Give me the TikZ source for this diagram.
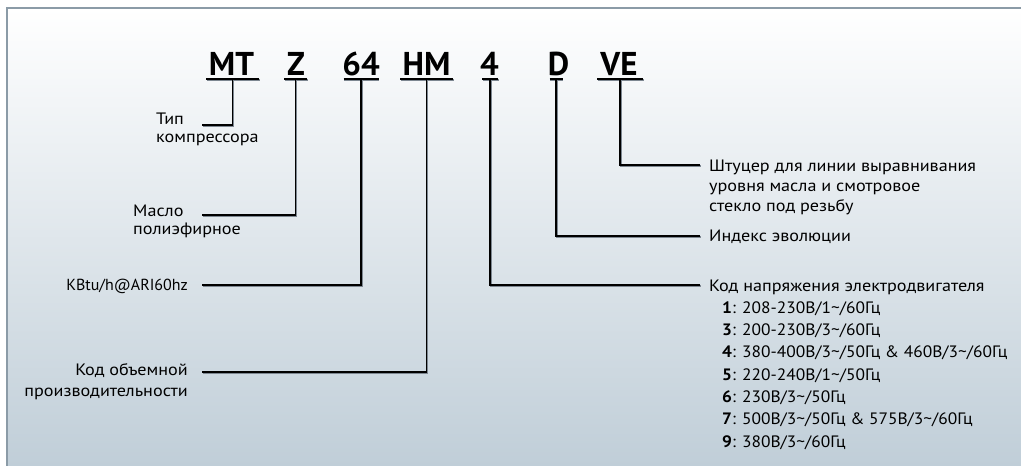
\documentclass[tikz,border=0pt]{standalone}
\usepackage{fontspec}
\setmainfont{PT Sans}[FakeStretch=1.1]
\newfontfamily\plainfont{PT Sans}
\newfontfamily\listfont{PT Sans}[FakeStretch=1.055]
\definecolor{bgbot}{RGB}{192,206,216}
\definecolor{frame}{RGB}{139,155,167}
\definecolor{shadowc}{RGB}{125,135,145}
\tikzset{
  code/.style={anchor=base, inner sep=0pt, font=\plainfont\fontsize{33}{33}\selectfont\bfseries},
  lbl/.style={inner sep=0pt, font=\fontsize{16.5}{18}\selectfont},
  conn/.style={line width=1.6pt, draw=black,
    preaction={draw=shadowc, line width=1.6pt, transform canvas={shift={(0.7pt,-0.7pt)}}}},
}
\begin{document}
\begin{tikzpicture}[x=1pt,y=-1pt]
\useasboundingbox (0,0) rectangle (1021,466);
\fill[white] (0,0) rectangle (1021,466);
\shade[top color=white, bottom color=bgbot] (7,8) rectangle (1021,466);
\draw[frame, line width=2pt] (7,466) -- (7,8) -- (1021,8);

% codes
\node[code] (mt) at (231.5,75) {MT};
\node[code] (z) at (296,75) {Z};
\node[code] (n64) at (361,75) {64};
\node[code] (hm) at (426.5,75) {HM};
\node[code] (n4) at (489.5,75) {4};
\node[code] (d) at (558.5,75) {D};
\node[code] (ve) at (619,75) {VE};

% underline centres
\coordinate (mtU) at (232.5,79);
\coordinate (zU) at (295.5,79);
\coordinate (n64U) at (361,79);
\coordinate (hmU) at (426.5,79);
\coordinate (n4U) at (490,79);
\coordinate (dU) at (556,79);
\coordinate (veU) at (620,79);
\draw[conn] ([xshift=-26.5]mtU) -- ([xshift=26.5]mtU);
\draw[conn] ([xshift=-11.5]zU) -- ([xshift=11.5]zU);
\draw[conn] ([xshift=-17.5]n64U) -- ([xshift=17.5]n64U);
\draw[conn] ([xshift=-26.5]hmU) -- ([xshift=26.5]hmU);
\draw[conn] ([xshift=-8]n4U) -- ([xshift=8]n4U);
\draw[conn] ([xshift=-6.5]dU) -- ([xshift=6.5]dU);
\draw[conn] ([xshift=-23]veU) -- ([xshift=23]veU);

% left labels (base = last line)
\node[lbl, anchor=base west, align=left] (tip) at (156,142) {Тип\\компрессора};
\node[lbl, anchor=base west, align=left] (oil) at (133,234) {Масло\\полиэфирное};
\node[lbl, anchor=base east, font=\plainfont\fontsize{16}{18}\selectfont] (kbtu) at (188,290) {KBtu/h@ARI60hz};
\node[lbl, anchor=base east, align=right, font=\fontsize{16.5}{21}\selectfont] (vol) at (188,396) {Код объемной\\производительности};

% right labels
\node[lbl, anchor=base west, align=left, font=\fontsize{16.5}{20}\selectfont] (fit) at (709,211) {Штуцер для линии выравнивания\\уровня масла и смотровое\\стекло под резьбу};
\node[lbl, anchor=base west] (evo) at (709,241) {Индекс эволюции};
\node[lbl, anchor=base west] (volt) at (709,291) {Код напряжения электродвигателя};
\node[lbl, anchor=base west, align=left, font=\listfont\fontsize{16.5}{22.3}\selectfont] (vlist) at (722,447) {%
\textbf{1}: 208-230В/1\char"007E/60Гц\\
\textbf{3}: 200-230В/3\char"007E/60Гц\\
\textbf{4}: 380-400В/3\char"007E/50Гц \& 460В/3\char"007E/60Гц\\
\textbf{5}: 220-240В/1\char"007E/50Гц\\
\textbf{6}: 230В/3\char"007E/50Гц\\
\textbf{7}: 500В/3\char"007E/50Гц \& 575В/3\char"007E/60Гц\\
\textbf{9}: 380В/3\char"007E/60Гц};

% connector ends
\coordinate (tipE) at (202,125);
\coordinate (oilE) at (202,215);
\coordinate (kbtuE) at (202,285);
\coordinate (volE) at (202,372);
\coordinate (fitE) at (700,165);
\coordinate (evoE) at (700,236);
\coordinate (voltE) at (700,285);

\draw[conn] (mtU) |- (tipE);
\draw[conn] (zU) |- (oilE);
\draw[conn] (n64U) |- (kbtuE);
\draw[conn] (hmU) |- (volE);
\draw[conn] (n4U) |- (voltE);
\draw[conn] (dU) |- (evoE);
\draw[conn] (veU) |- (fitE);
\end{tikzpicture}
\end{document}
